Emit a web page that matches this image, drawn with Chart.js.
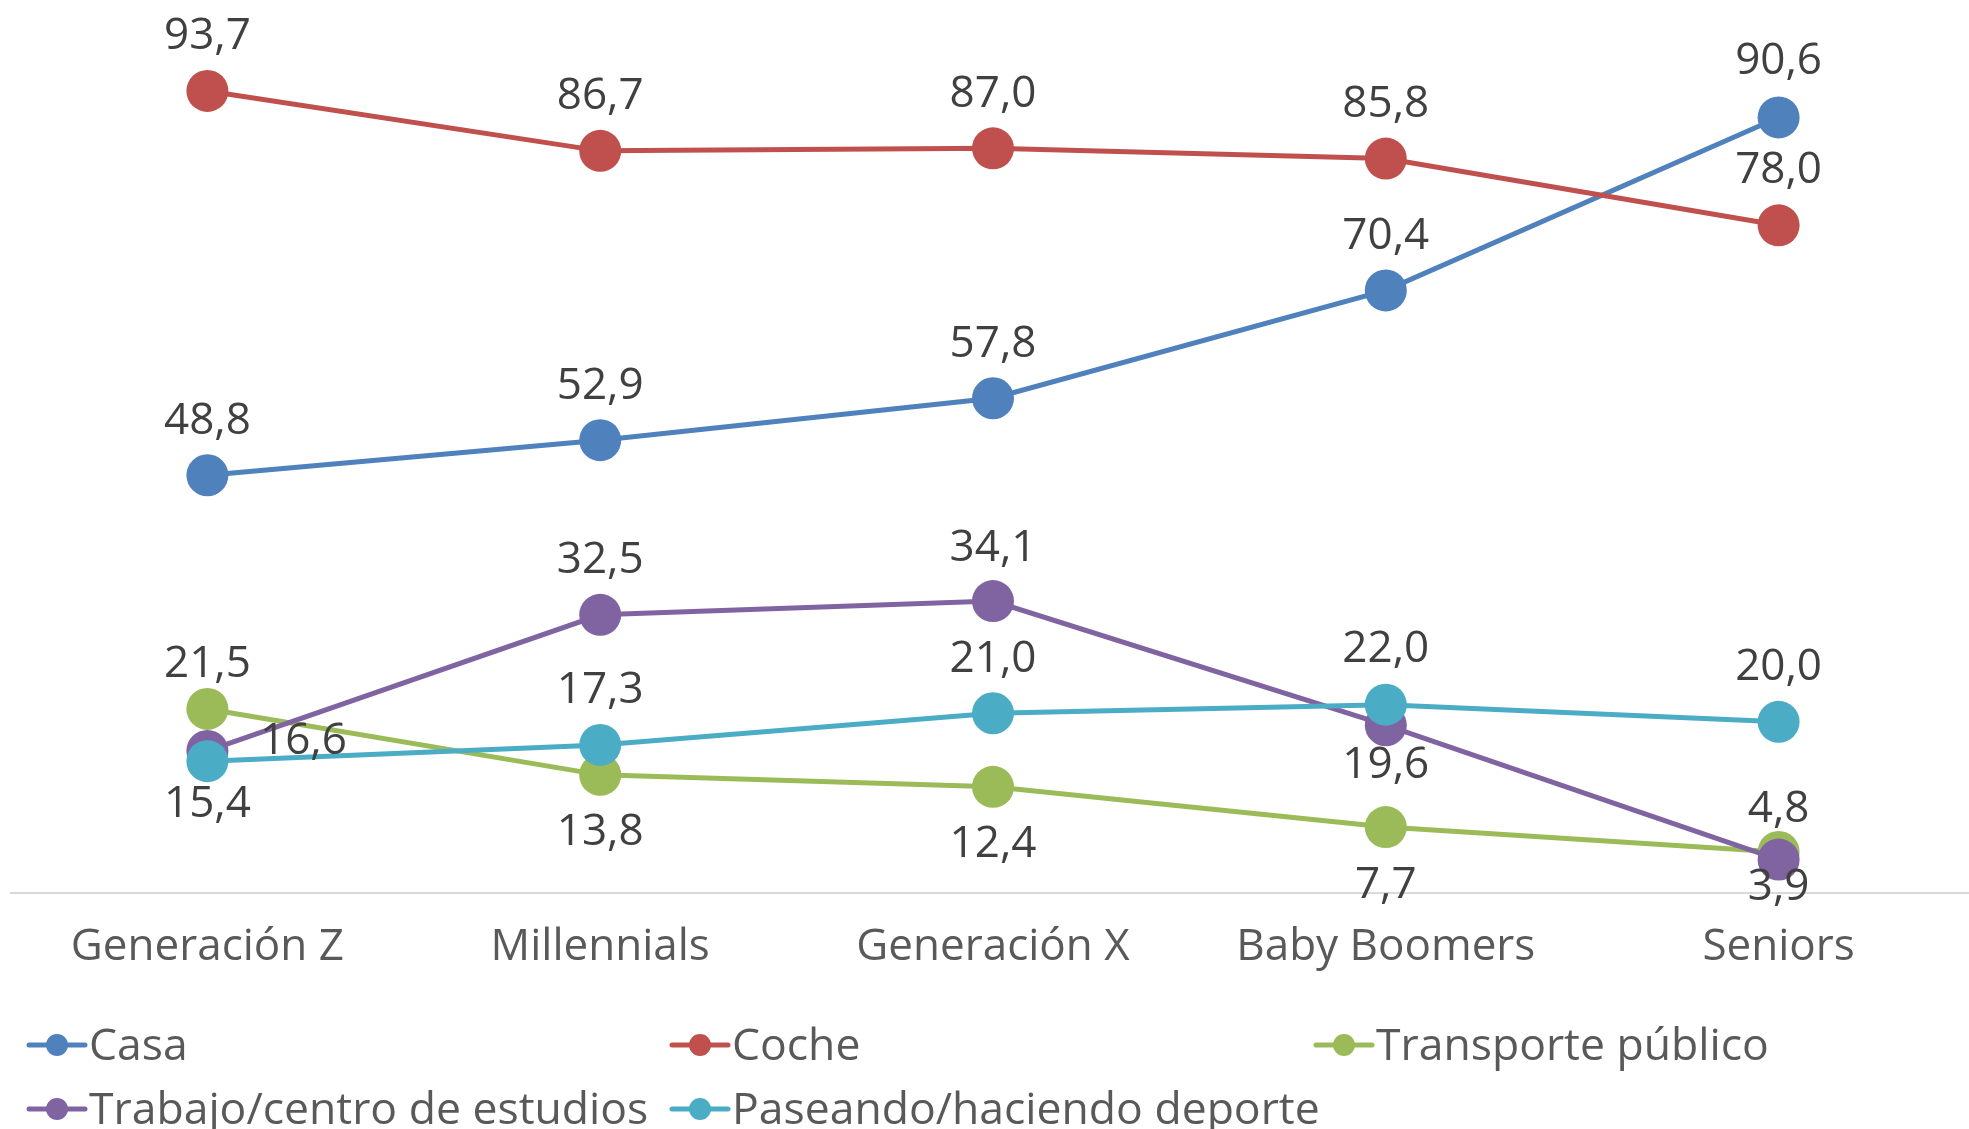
<!DOCTYPE html>
<html>
<head>
<meta charset="utf-8">
<script src="https://cdn.jsdelivr.net/npm/chart.js@4.4.1/dist/chart.umd.min.js"></script>
<style>
  html, body { margin: 0; padding: 0; background: #fff; overflow: hidden; }
  /* a few px wider than the window: excel's plot area runs slightly past the right edge */
  #wrap { width: 1975px; height: 1129px; position: relative; }
  canvas { display: block; }
</style>
</head>
<body>
<div id="wrap"><canvas id="chart"></canvas></div>
<script>
// categories -> x axis
const generaciones = ['Generación Z', 'Millennials', 'Generación X', 'Baby Boomers', 'Seniors'];

// % per series
const casa = [48.8, 52.9, 57.8, 70.4, 90.6];
const coche = [93.7, 86.7, 87.0, 85.8, 78.0];
const transporte = [21.5, 13.8, 12.4, 7.7, 4.8];
const trabajo = [16.6, 32.5, 34.1, 19.6, 3.9];
const paseando = [15.4, 17.3, 21.0, 22.0, 20.0];

const seriesNames = ['Casa', 'Coche', 'Transporte público', 'Trabajo/centro de estudios', 'Paseando/haciendo deporte'];
const colors = ['#4f81bd', '#c0504d', '#9bbb59', '#8064a2', '#4bacc6'];

// label placement (px from the point), excel puts some above, some below
const labelOffsets = [
  [[0,-54],[0,-54],[0,-54],[0,-54],[0,-56]],
  [[0,-54],[0,-54],[0,-54],[0,-54],[0,-55]],
  [[0,-44],[0,58],[0,58],[0,58],[0,-42]],
  [[96,-9],[0,-54],[0,-53],[0,40],[0,28]],
  [[0,43],[0,-54],[0,-54],[0,-55],[0,-54]]
];

const FONT = '"Open Sans", sans-serif';

const allSeries = [casa, coche, transporte, trabajo, paseando];

const datasets = allSeries.map((vals, i) => ({
  label: seriesNames[i],
  data: vals,
  borderColor: colors[i],
  backgroundColor: colors[i],
  pointBackgroundColor: colors[i],
  pointBorderWidth: 0,
  pointRadius: 21,
  pointHoverRadius: 21,
  borderWidth: 5,
  tension: 0,
  order: 5 - i,   // later series drawn on top, like excel
  clip: false
}));

const labelPlugin = {
  id: 'valueLabels',
  afterDatasetsDraw(chart) {
    const ctx = chart.ctx;
    ctx.save();
    ctx.font = '44px ' + FONT;
    ctx.fillStyle = '#404040';
    ctx.textAlign = 'center';
    ctx.textBaseline = 'middle';
    chart.data.datasets.forEach((ds, i) => {
      const meta = chart.getDatasetMeta(i);
      meta.data.forEach((pt, j) => {
        const off = labelOffsets[i][j];
        const txt = ds.data[j].toFixed(1).replace('.', ',');
        ctx.fillText(txt, pt.x + off[0], pt.y + off[1]);
      });
    });
    ctx.restore();
  }
};

// legend laid out in excel-like columns
const legendPlugin = {
  id: 'excelLegend',
  afterDraw(chart) {
    const ctx = chart.ctx;
    const colX = [29, 672, 1316];
    const rowY = [1045, 1109];
    ctx.save();
    ctx.font = '44.5px ' + FONT;
    ctx.textBaseline = 'middle';
    ctx.textAlign = 'left';
    seriesNames.forEach((name, i) => {
      const x = colX[i % 3];
      const y = rowY[Math.floor(i / 3)];
      ctx.strokeStyle = colors[i];
      ctx.lineWidth = 5;
      ctx.lineCap = 'round';
      ctx.beginPath();
      ctx.moveTo(x, y);
      ctx.lineTo(x + 56, y);
      ctx.stroke();
      ctx.fillStyle = colors[i];
      ctx.beginPath();
      ctx.arc(x + 28, y, 11, 0, Math.PI * 2);
      ctx.fill();
      ctx.fillStyle = '#595959';
      ctx.fillText(name, x + 60, y + 2);
    });
    ctx.restore();
  }
};

const config = {
  type: 'line',
  data: {
    labels: generaciones,
    datasets: datasets
  },
  options: {
    responsive: true,
    maintainAspectRatio: false,
    animation: false,
    layout: { autoPadding: false, padding: { top: 37, left: 11, right: 0, bottom: 0 } },
    plugins: {
      legend: { display: false },
      tooltip: { enabled: false }
    },
    scales: {
      x: {
        offset: true,
        grid: { display: false, drawTicks: false },
        border: { display: true, color: '#d9d9d9', width: 2 },
        ticks: {
          color: '#595959',
          font: { family: FONT, size: 44 },
          padding: 28,
          maxRotation: 0,
          autoSkip: false
        },
        afterFit: (s) => { s.height = 236; }
      },
      y: {
        display: false,
        min: 0,
        max: 100
      }
    }
  },
  plugins: [labelPlugin, legendPlugin]
};

var myChart = new Chart(document.getElementById('chart').getContext('2d'), config);
</script>
</body>
</html>
